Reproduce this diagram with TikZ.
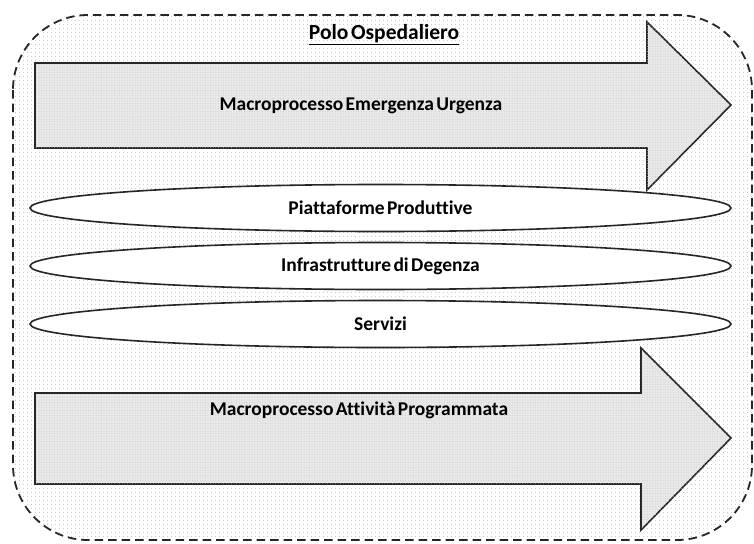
\documentclass[tikz,border=0pt]{standalone}
\usepackage{fontspec}
\setmainfont[Ligatures=CommonOff, WordSpace=0.55]{Carlito}
\usetikzlibrary{shapes.geometric,patterns.meta}
\tikzset{
  outline/.style={line width=1.6pt, draw=black!85},
  bigarrow/.style={outline, fill=black!9, postaction={pattern={Dots[radius=0.45pt,distance=2.6pt]}, pattern color=black!22}},
  lane/.style={ellipse, outline, fill=white, minimum width=701pt, minimum height=47pt, inner sep=0pt, font=\bfseries\fontsize{19.5}{21}\selectfont},
  lbl/.style={font=\bfseries\fontsize{19.5}{21}\selectfont, inner sep=1pt}
}
\begin{document}
\begin{tikzpicture}[x=1pt,y=-1pt]
\useasboundingbox (0,0) rectangle (754,543);
% container
\path[fill=white, postaction={pattern={Dots[radius=0.5pt,distance=4pt]}, pattern color=black!35}]
  [rounded corners=75pt] (13,15) rectangle (752,540);
\draw[line width=1.8pt, dash pattern=on 8.5pt off 5pt, draw=black!85, rounded corners=75pt] (13,15) rectangle (752,540);
\node[lbl, font=\bfseries\fontsize{21.5}{23}\selectfont] (title) at (384,35) {\underline{Polo Ospedaliero}};
% top arrow
\draw[bigarrow] (35,63) -- (647,63) -- (647,22) -- (731,105) -- (647,190) -- (647,148) -- (35,148) -- cycle;
\node[lbl] (eu) at (361,106) {Macroprocesso Emergenza Urgenza};
% ellipses
\node[lane] (pp) at (380.5,208) {Piattaforme Produttive};
\node[lane] (id) at (380.5,266) {Infrastrutture di Degenza};
\node[lane] (sv) at (380.5,324) {Servizi};
% bottom arrow
\draw[bigarrow] (35,393) -- (641,393) -- (641,348) -- (731,438) -- (641,530) -- (641,484) -- (35,484) -- cycle;
\node[lbl] (ap) at (359,410) {Macroprocesso Attività Programmata};
\end{tikzpicture}
\end{document}
